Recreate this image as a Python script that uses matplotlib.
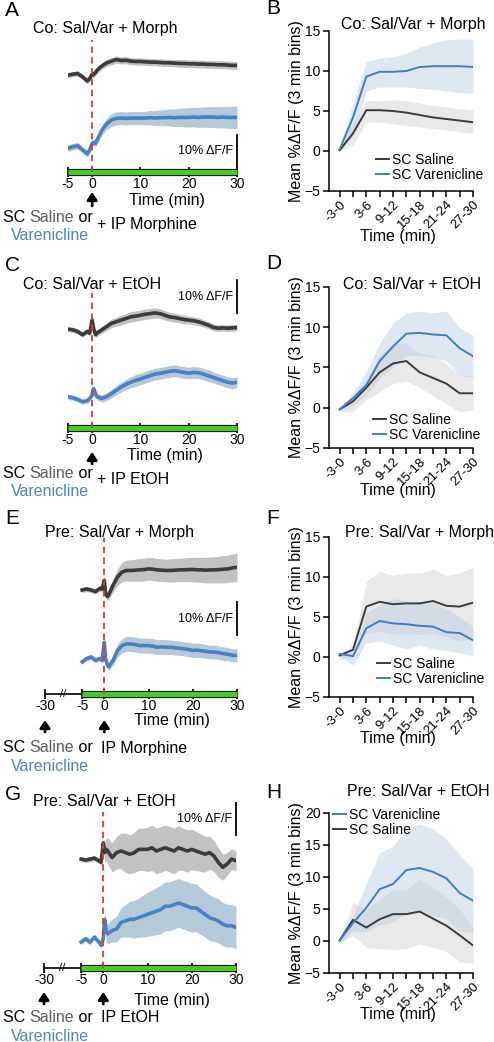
import numpy as np
import matplotlib
matplotlib.use('Agg')
import matplotlib.pyplot as plt

plt.rcParams['font.family'] = ['Liberation Sans', 'DejaVu Sans']

# ---- photometry traces (time in min, %dF/F relative to baseline) ----
T = [-5, -4, -3, -2, -1, -0.5, 0, 0.3, 0.7, 1, 2, 3, 4, 5, 6, 7, 8, 9, 10,
     11, 12, 13, 14, 15, 16, 17, 18, 19, 20, 21, 22, 23, 24, 25, 26, 27, 28, 29, 30]

A_sal = [0, 0.3, 0.5, -0.5, -1.8, -1.0, 0.3, 0.2, 0.8, 1.5, 2.8, 3.8, 4.3, 4.8, 4.5, 4.6, 4.3, 4.2, 4.2,
         4.1, 4.0, 4.0, 3.9, 3.8, 3.8, 3.7, 3.6, 3.6, 3.5, 3.5, 3.4, 3.4, 3.3, 3.3, 3.2, 3.2, 3.1, 3.0, 3.0]
A_sal_sem = [0.8, 0.8, 0.8, 0.8, 0.9, 0.9, 1.0, 1.0, 1.0, 1.0, 1.0, 1.1, 1.1, 1.1, 1.1, 1.1, 1.1, 1.1, 1.1,
             1.1, 1.1, 1.1, 1.1, 1.1, 1.1, 1.1, 1.2, 1.2, 1.2, 1.2, 1.2, 1.2, 1.2, 1.2, 1.2, 1.2, 1.2, 1.2, 1.2]
A_var = [0, 0.5, 0.8, -0.5, -1.7, -0.5, 1.5, 1.8, 1.5, 2.5, 5.5, 7.5, 8.7, 9.2, 9.3, 9.2, 9.3, 9.3, 9.3,
         9.3, 9.4, 9.3, 9.4, 9.4, 9.5, 9.4, 9.5, 9.5, 9.5, 9.6, 9.5, 9.6, 9.6, 9.6, 9.5, 9.6, 9.5, 9.5, 9.5]
A_var_sem = [1.0, 1.0, 1.0, 1.0, 1.0, 1.0, 1.0, 1.0, 1.1, 1.2, 1.5, 1.8, 2.0, 2.0, 2.0, 2.0, 2.0, 2.0, 2.0,
             2.1, 2.2, 2.3, 2.4, 2.5, 2.6, 2.7, 2.8, 2.9, 3.0, 3.0, 3.1, 3.1, 3.2, 3.2, 3.3, 3.3, 3.4, 3.4, 3.5]

C_sal = [0.2, 0, -0.5, -1.5, -0.5, -1.0, 3.0, 0.5, -1.5, -1.0, 0, 1.0, 2.0, 2.5, 3.0, 3.5, 4.0, 4.2, 4.5,
         4.8, 5.0, 5.2, 5.0, 4.5, 4.0, 3.8, 3.5, 3.2, 3.0, 2.8, 2.5, 2.0, 1.5, 0.8, 0.5, 0.6, 0.5, 0.6, 0.7]
C_sal_sem = [0.8, 0.8, 0.8, 0.8, 0.8, 0.8, 1.0, 1.0, 1.0, 1.0, 1.1, 1.2, 1.3, 1.4, 1.5, 1.5, 1.6, 1.6, 1.6,
             1.6, 1.6, 1.6, 1.5, 1.5, 1.4, 1.4, 1.3, 1.3, 1.2, 1.2, 1.2, 1.1, 1.1, 1.1, 1.0, 1.0, 1.0, 1.0, 1.0]
C_var = [0, -0.3, -0.8, -1.5, -1.2, -0.5, 0.5, 2.5, 1.0, 0.0, -0.5, 0, 1.0, 2.0, 3.0, 3.8, 4.5, 5.0, 5.5,
         6.0, 6.5, 7.0, 7.2, 7.5, 7.8, 8.0, 7.8, 7.5, 7.3, 7.5, 7.4, 7.0, 6.5, 6.0, 5.5, 5.0, 4.5, 4.2, 4.5]
C_var_sem = [0.8, 0.8, 0.8, 0.8, 0.8, 0.9, 1.0, 1.2, 1.0, 1.0, 1.1, 1.2, 1.3, 1.4, 1.5, 1.6, 1.7, 1.8, 1.8,
             1.8, 1.8, 1.8, 1.8, 1.8, 1.8, 1.8, 1.8, 1.8, 1.8, 1.8, 1.8, 1.8, 1.8, 1.7, 1.7, 1.7, 1.7, 1.7, 1.7]

E_sal = [0, 0.3, 0, -0.5, 0.5, 0.3, 3.0, -1.0, -2.0, -1.5, 1.5, 4.0, 5.5, 6.0, 6.0, 6.1, 6.2, 6.3, 6.5,
         6.4, 6.2, 6.1, 6.0, 6.0, 6.1, 6.2, 6.2, 6.3, 6.3, 6.2, 6.2, 6.1, 6.2, 6.2, 6.3, 6.4, 6.5, 6.8, 7.0]
E_sal_sem = [0.8, 0.8, 0.8, 0.8, 0.9, 1.0, 1.2, 1.2, 1.3, 1.5, 2.0, 2.5, 3.0, 3.2, 3.3, 3.4, 3.5, 3.5, 3.5,
             3.5, 3.5, 3.5, 3.5, 3.6, 3.6, 3.6, 3.7, 3.7, 3.8, 3.8, 3.9, 3.9, 4.0, 4.0, 4.1, 4.2, 4.2, 4.3, 4.4]
E_var = [0, 1.0, 1.5, 0.5, 1.0, 0.5, 6.0, 1.0, -1.0, -1.5, 0.5, 3.5, 5.0, 5.5, 5.5, 5.3, 5.0, 5.0, 5.0,
         4.8, 4.5, 4.6, 4.5, 4.5, 4.3, 4.2, 4.0, 3.8, 3.5, 3.6, 3.4, 3.2, 3.0, 3.0, 2.8, 2.5, 2.3, 2.0, 2.0]
E_var_sem = [0.8, 0.8, 0.8, 0.8, 0.8, 0.9, 1.2, 1.2, 1.2, 1.2, 1.5, 2.0, 2.2, 2.3, 2.3, 2.3, 2.3, 2.3, 2.3,
             2.3, 2.3, 2.3, 2.3, 2.2, 2.2, 2.2, 2.2, 2.2, 2.2, 2.2, 2.2, 2.1, 2.1, 2.1, 2.1, 2.1, 2.0, 2.0, 2.0]

G_sal = [0, -0.3, 0, 0.3, -0.5, -1.0, 5.0, 2.0, 3.0, 2.5, 0.5, 2.0, 2.5, 2.0, 1.5, 2.0, 3.0, 3.0, 3.0,
         3.5, 2.5, 3.0, 3.5, 3.0, 2.5, 3.5, 3.0, 2.5, 3.0, 2.5, 2.0, 1.5, 2.0, 1.0, -1.0, -2.5, -1.5, 0.0, -0.5]
G_sal_sem = [0.8, 0.8, 0.8, 0.8, 0.8, 0.9, 2.0, 3.0, 3.5, 4.0, 4.5, 5.0, 5.5, 6.0, 6.0, 6.2, 6.5, 6.5, 6.8,
             7.0, 7.0, 7.0, 7.0, 7.0, 7.0, 6.8, 6.5, 6.5, 6.2, 6.0, 5.8, 5.5, 5.0, 4.8, 4.5, 4.0, 3.5, 3.2, 3.0]
G_var = [0, 1.0, 0, 1.5, 0, -1.0, 1.0, 7.0, 3.0, 2.5, 3.5, 4.0, 6.0, 6.5, 7.0, 7.0, 7.5, 8.0, 8.5,
         9.0, 9.5, 10.0, 11.0, 11.0, 11.5, 12.0, 11.5, 11.0, 10.5, 10.5, 9.5, 8.5, 7.5, 7.0, 6.5, 5.5, 5.0, 5.0, 4.5]
G_var_sem = [0.8, 0.8, 0.8, 0.8, 0.8, 0.9, 1.5, 2.5, 3.0, 3.0, 3.5, 4.0, 4.5, 5.0, 5.5, 5.8, 6.0, 6.5, 6.8,
             7.0, 7.2, 7.5, 7.5, 7.5, 7.5, 7.5, 7.5, 7.5, 7.5, 7.3, 7.2, 7.0, 7.0, 6.8, 6.8, 6.7, 6.6, 6.5, 6.5]

# ---- 3-min bin means ----
BINS = ['-3-0', '0-3', '3-6', '6-9', '9-12', '12-15', '15-18', '18-21', '21-24', '24-27', '27-30']

B_sal = [0.1, 2.2, 5.1, 5.1, 5.0, 4.8, 4.5, 4.2, 4.0, 3.8, 3.6]
B_sal_lo = [0.0, 0.8, 3.6, 3.6, 3.4, 3.2, 3.0, 2.8, 2.6, 2.4, 2.2]
B_sal_hi = [0.3, 3.5, 6.3, 6.3, 6.4, 6.3, 6.0, 5.7, 5.5, 5.3, 5.1]
B_var = [0.2, 4.2, 9.3, 9.9, 9.9, 10.0, 10.5, 10.6, 10.6, 10.6, 10.5]
B_var_lo = [0.0, 2.0, 7.5, 8.0, 8.0, 8.0, 7.8, 7.7, 7.5, 7.3, 7.2]
B_var_hi = [0.4, 6.0, 11.2, 11.6, 11.8, 12.2, 13.0, 13.5, 13.9, 14.0, 14.0]

D_sal = [-0.2, 0.8, 2.5, 4.4, 5.5, 5.8, 4.4, 3.7, 3.0, 1.8, 1.8]
D_sal_lo = [-0.5, -0.5, 1.0, 2.0, 3.0, 3.3, 2.5, 1.5, 0.5, -0.5, -0.3]
D_sal_hi = [0.0, 1.5, 3.5, 6.5, 8.0, 8.0, 6.8, 6.5, 5.5, 4.0, 4.0]
D_var = [-0.2, 1.2, 2.8, 5.8, 7.6, 9.2, 9.3, 9.1, 9.0, 7.4, 6.4]
D_var_lo = [-0.3, 0.3, 1.5, 3.7, 5.0, 6.5, 6.5, 6.3, 5.8, 4.0, 3.8]
D_var_hi = [0.0, 1.8, 4.5, 8.0, 10.5, 11.8, 12.0, 11.8, 12.0, 10.0, 9.0]

F_sal = [0.2, 0.9, 6.3, 6.9, 6.6, 6.7, 6.7, 7.0, 6.4, 6.3, 6.8]
F_sal_lo = [-0.3, 0.0, 3.0, 3.2, 2.8, 2.8, 2.8, 2.9, 2.5, 2.0, 2.3]
F_sal_hi = [0.5, 1.5, 9.5, 10.7, 10.2, 10.5, 10.5, 11.0, 10.2, 10.5, 11.2]
F_var = [0.4, 0.1, 3.6, 4.5, 4.2, 4.1, 3.9, 3.8, 3.1, 3.0, 2.1]
F_var_lo = [0.1, -1.0, 1.8, 2.0, 1.5, 1.0, 1.5, 1.0, 0.8, 0.5, 0.2]
F_var_hi = [0.6, 0.5, 5.5, 6.5, 7.3, 7.0, 6.8, 6.8, 6.0, 5.0, 3.8]

H_sal = [0.1, 3.3, 2.1, 3.4, 4.2, 4.2, 4.6, 3.5, 2.4, 0.9, -0.7]
H_sal_lo = [-0.2, 0.8, -1.0, -1.2, -1.3, -1.2, -0.5, -1.0, -1.7, -3.3, -3.5]
H_sal_hi = [0.3, 6.0, 5.0, 6.5, 8.0, 8.0, 9.7, 8.5, 6.8, 5.0, 2.0]
H_var = [0.1, 2.8, 5.2, 8.1, 8.9, 11.1, 11.4, 10.8, 9.8, 7.5, 6.3]
H_var_lo = [-0.3, 1.5, 1.5, 2.5, 3.0, 4.5, 4.5, 4.0, 3.5, 1.5, 1.3]
H_var_hi = [0.5, 4.0, 9.0, 13.8, 14.8, 17.5, 18.3, 17.5, 16.0, 13.5, 11.3]

DARK = '#3b3b3b'
BLUE = '#4a80c4'
GRAY_BAND = '#c2c2c2'
BLUE_BAND = '#b5cad8'
RED = '#e8392c'
GREEN = '#46cc1f'
SAL_TXT = '#5c5c5c'
VAR_TXT = '#4a86c8'

W, H = 494, 1042
UNIT_PX = 3.25   # pixels per 1 % dF/F in the trace panels

fig = plt.figure(figsize=(W / 100, H / 100), dpi=100)


def box(l, t, r, b):
    return [l / W, 1 - b / H, (r - l) / W, (b - t) / H]


def fp(x, y):
    return (x / W, 1 - y / H)


def ftext(x, y, s, **kw):
    kw.setdefault('fontsize', 11.5)
    kw.setdefault('va', 'center')
    return fig.text(x / W, 1 - y / H, s, **kw)


def multi_text(x, y, parts, size=11.5):
    rend = fig.canvas.get_renderer()
    for s, c in parts:
        t = ftext(x, y, s, color=c, fontsize=size, ha='left')
        x += t.get_window_extent(rend).width


def trace_panel(l, t, r, b, xmin, sal, sal_e, var, var_e, sal_off, var_off, sb, pre=False):
    ax = fig.add_axes(box(l, t, r, b))
    ax.set_xlim(xmin, 30)
    ax.set_ylim(0, (b - t) / UNIT_PX)
    for y, e, off, lc, fc in [(sal, sal_e, sal_off, DARK, GRAY_BAND),
                              (var, var_e, var_off, BLUE, BLUE_BAND)]:
        y = np.array(y) + off
        e = np.array(e)
        ax.fill_between(T, y - e, y + e, color=fc, lw=0)
        ax.plot(T, y, color=lc, lw=2.6)
    ax.axvline(0, color=RED, ls=(0, (3.5, 2.5)), lw=1.3, zorder=3)
    for s in ax.spines.values():
        s.set_visible(False)
    ax.plot([-5, 30], [0, 0], color='k', lw=5.2, solid_capstyle='butt', clip_on=False, zorder=2.1)
    ax.plot([-5, 30], [0, 0], color=GREEN, lw=3.8, solid_capstyle='butt', clip_on=False, zorder=2.2)
    ticks = [-5, 0, 10, 20, 30]
    labels = ['-5', '0', '10', '20', '30']
    if pre:
        ticks = [xmin] + ticks
        labels = ['-30'] + labels
        ax.plot([xmin, -5], [0, 0], color='k', lw=1.2, clip_on=False)
        ax.text((xmin - 5) / 2, 0, '//', ha='center', va='center', fontsize=8)
    ax.set_xticks(ticks)
    ax.set_xticklabels(labels)
    ax.set_yticks([])
    ax.tick_params(axis='x', direction='inout', length=7, width=1.2, pad=0, labelsize=10)
    ax.plot([30, 30], [sb, sb + 10], color='k', lw=1.3, clip_on=False)
    ax.text(29.2, sb + 5, '10% ΔF/F', ha='right', va='center', fontsize=9)
    ax.patch.set_alpha(0)
    return ax


def arrow(ax, xdata, tip, tail):
    ax.annotate('', xy=(xdata, 1 - tip / H), xytext=(xdata, 1 - tail / H),
                xycoords=('data', 'figure fraction'), textcoords=('data', 'figure fraction'),
                arrowprops=dict(arrowstyle='-|>,head_length=0.45,head_width=0.3',
                                color='k', lw=2, shrinkA=0, shrinkB=0))


def bin_panel(l, t, r, b, ylim, yticks, sal, sal_lo, sal_hi, var, var_lo, var_hi,
              leg_xy, var_first=False):
    ax = fig.add_axes(box(l, t, r, b))
    x = np.arange(len(BINS))
    ax.fill_between(x, sal_lo, sal_hi, color='#cfcfcf', alpha=0.45, lw=0)
    ax.fill_between(x, var_lo, var_hi, color='#b9cde0', alpha=0.45, lw=0)
    h_sal, = ax.plot(x, sal, color=DARK, lw=1.4)
    h_var, = ax.plot(x, var, color='#3f7cc8', lw=1.4)
    ax.set_xlim(-0.8, 10)
    ax.set_ylim(*ylim)
    ax.set_yticks(yticks)
    ax.set_xticks(x)
    ax.set_xticklabels([lab if i % 2 == 0 else '' for i, lab in enumerate(BINS)],
                       rotation=45, ha='right', va='top', rotation_mode='anchor')
    ax.spines['top'].set_visible(False)
    ax.spines['right'].set_visible(False)
    for s in ('left', 'bottom'):
        ax.spines[s].set_linewidth(1.1)
    ax.tick_params(direction='out', length=4, width=1.1, labelsize=10, pad=2)
    ax.tick_params(axis='x', labelsize=9.5, pad=1.5)
    handles = [h_sal, h_var]
    names = ['SC Saline', 'SC Varenicline']
    if var_first:
        handles, names = handles[::-1], names[::-1]
    ax.legend(handles, names, loc='upper left', bbox_to_anchor=fp(*leg_xy),
              bbox_transform=fig.transFigure, frameon=False, borderpad=0, borderaxespad=0,
              handlelength=0.9, handletextpad=0.25, labelspacing=0.05, fontsize=10)
    ftext(297, (t + b) / 2, 'Mean %ΔF/F (3 min bins)', rotation=90, ha='center', fontsize=11.5)
    return ax


# ---- left column ----
axA = trace_panel(68, 40, 237, 172, -5, A_sal, A_sal_sem, A_var, A_var_sem, 29.8, 7.3, 1.5)
axC = trace_panel(68, 293, 237, 428, -5, C_sal, C_sal_sem, C_var, C_var_sem, 30.2, 9.6, 35.4)
axE = trace_panel(45, 538, 237, 694, -13.4, E_sal, E_sal_sem, E_var, E_var_sem, 32.0, 9.9, 18.2, pre=True)
axG = trace_panel(44, 812, 236, 968, -13.4, G_sal, G_sal_sem, G_var, G_var_sem, 33.5, 8.0, 40.9, pre=True)

arrow(axA, 0, 192, 206)
arrow(axC, 0, 452, 464)
arrow(axE, 0, 720, 732)
arrow(axE, -13.4, 720, 732)
arrow(axG, 0, 992, 1004)
arrow(axG, -13.4, 992, 1004)

ftext(167, 201, 'Time (min)', ha='center')
ftext(165, 456, 'Time (min)', ha='center')
ftext(172, 721, 'Time (min)', ha='center')
ftext(172, 1000, 'Time (min)', ha='center')

ftext(33, 28, 'Co: Sal/Var + Morph', ha='left')
ftext(23, 285, 'Co: Sal/Var + EtOH', ha='left')
ftext(45, 533, 'Pre: Sal/Var + Morph', ha='left')
ftext(33, 802, 'Pre: Sal/Var + EtOH', ha='left')

for y0, drug in [(217, '+ IP Morphine'), (473, '+ IP EtOH'), (748, 'IP Morphine'), (1018, 'IP EtOH')]:
    multi_text(3, y0, [('SC ', 'k'), ('Saline', SAL_TXT), (' or', 'k')])
    ftext(11, y0 + 18.5, 'Varenicline', color=VAR_TXT, fontsize=11.5, ha='left')
    if drug.startswith('+'):
        ftext(97, y0 + 7, drug, fontsize=11.5, ha='left')
    else:
        ftext(101, y0, drug, fontsize=11.5, ha='left')

# ---- right column ----
bin_panel(329, 31, 473, 191, (-5, 15), [-5, 0, 5, 10, 15],
          B_sal, B_sal_lo, B_sal_hi, B_var, B_var_lo, B_var_hi, (376, 153))
bin_panel(329, 287, 473, 448, (-5, 15), [-5, 0, 5, 10, 15],
          D_sal, D_sal_lo, D_sal_hi, D_var, D_var_lo, D_var_hi, (373, 413))
bin_panel(329, 537, 473, 697, (-5, 15), [-5, 0, 5, 10, 15],
          F_sal, F_sal_lo, F_sal_hi, F_var, F_var_lo, F_var_hi, (377, 657))
bin_panel(329, 813, 473, 973, (-5, 20), [-5, 0, 5, 10, 15, 20],
          H_sal, H_sal_lo, H_sal_hi, H_var, H_var_lo, H_var_hi, (333, 808), var_first=True)

ftext(341, 25, 'Co: Sal/Var + Morph', ha='left')
ftext(343, 285, 'Co: Sal/Var + EtOH', ha='left')
ftext(345, 533, 'Pre: Sal/Var + Morph', ha='left')
ftext(347, 792, 'Pre: Sal/Var + EtOH', ha='left')

ftext(398, 237, 'Time (min)', ha='center')
ftext(398, 491, 'Time (min)', ha='center')
ftext(398, 739, 'Time (min)', ha='center')
ftext(398, 1014, 'Time (min)', ha='center')

for x, y, s in [(5, 10, 'A'), (266, 9, 'B'), (5, 265, 'C'), (266, 264, 'D'),
                (5, 519, 'E'), (266, 519, 'F'), (5, 794, 'G'), (266, 793, 'H')]:
    ftext(x, y, s, fontsize=15, ha='left')

fig.savefig('out.png', dpi=100)
